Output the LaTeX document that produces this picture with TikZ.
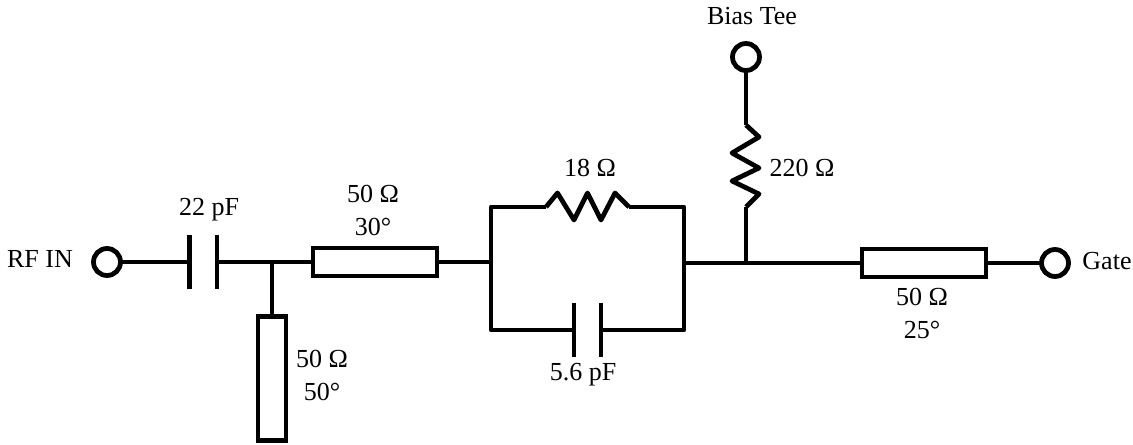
\documentclass[tikz,border=0pt]{standalone}
\usepackage{fontspec}
\setmainfont{Liberation Serif}
\usepackage{tikz}

\tikzset{
  wire/.style={line width=.095cm, line join=round},
  port/.style={circle, draw, line width=.095cm, minimum size=.54cm, inner sep=0, outer sep=0},
  tline/.style={rectangle, draw, line width=.095cm, inner sep=0, outer sep=0},
  plate/.style={rectangle, fill=black, minimum width=.095cm, minimum height=1.08cm, inner sep=0, outer sep=0},
  lbl/.style={inner sep=0, text height=.34cm, text depth=0cm, font=\fontsize{14.8}{17}\selectfont}
}

\begin{document}
\begin{tikzpicture}
 \useasboundingbox (0,0) rectangle (22.66,8.88);

% Ports
 \node[port] (RFIN) at (2.14,3.64) {};
 \node[port] (Bias) at (14.92,7.74) {};
 \node[port] (Gate) at (21.10,3.62) {};
 \node[lbl] (RFINtxt) at (.80,3.70) {RF IN};
 \node[lbl] (Biastxt) at (15.04,8.56) {Bias Tee};
 \node[lbl] (Gatetxt) at (22.14,3.66) {Gate};

% Input capacitor
 \node[plate] (CinA) at (3.79,3.64) {};
 \node[plate] (CinB) at (4.34,3.64) {};
 \node[lbl] (Cintxt) at (4.18,4.74) {22 pF};

% Lines
 \node[tline, minimum width=2.48cm, minimum height=.56cm] (TLa) at (7.5,3.64) {};
 \node[lbl] (TLaZ) at (7.46,5) {50 Ω};
 \node[lbl] (TLaP) at (7.46,4.34) {30°};

 \node[tline, minimum width=.56cm, minimum height=2.48cm] (TLs) at (5.44,1.31) {};
 \node[lbl] (TLsZ) at (6.44,1.70) {50 Ω};
 \node[lbl] (TLsP) at (6.44,1.04) {50°};

 \node[tline, minimum width=2.48cm, minimum height=.56cm] (TLb) at (18.48,3.62) {};
 \node[lbl] (TLbZ) at (18.44,2.94) {50 Ω};
 \node[lbl] (TLbP) at (18.44,2.28) {25°};

% Parallel RC
 \coordinate (Stub) at (5.44,3.64);
 \coordinate (LeftIn) at (9.82,3.64);
 \coordinate (RightIn) at (13.68,3.62);
 \coordinate (LeftTop) at (9.82,4.74);
 \coordinate (RightTop) at (13.68,4.74);
 \coordinate (LeftBot) at (9.82,2.28);
 \coordinate (RightBot) at (13.68,2.28);
 \coordinate (RpA) at (10.92,4.74);
 \coordinate (RpB) at (12.58,4.74);
 \node[plate] (CpA) at (11.48,2.28) {};
 \node[plate] (CpB) at (12.02,2.28) {};
 \node[lbl] (Rptxt) at (11.8,5.52) {18 Ω};
 \node[lbl] (Cptxt) at (11.66,1.44) {5.6 pF};

% Bias resistor
 \coordinate (Tee) at (14.92,3.62);
 \coordinate (RbA) at (14.92,6.38);
 \coordinate (RbB) at (14.92,4.74);
 \node[lbl] (Rbtxt) at (16.04,5.52) {220 Ω};

% Wires
 \draw[wire] (RFIN) -- (CinA);
 \draw[wire] (CinB) -- (TLa);
 \draw[wire] (Stub) -- (TLs);
 \draw[wire] (TLa) -- (LeftIn);
 \draw[wire] (RpA) -- (LeftTop) -- (LeftBot) -- (CpA);
 \draw[wire] (RpB) -- (RightTop) -- (RightBot) -- (CpB);
 \draw[wire] (RightIn) -- (TLb);
 \draw[wire] (TLb) -- (Gate);
 \draw[wire] (Bias) -- (RbA);
 \draw[wire] (RbB) -- (Tee);

% Zigzags
 \draw[wire] (RpA) -- ++(.23,.28) -- ++(.33,-.54) -- ++(.27,.54) -- ++(.27,-.54) -- ++(.28,.54) -- (RpB);
 \draw[wire] (RbA) -- ++(.26,-.24) -- ++(-.54,-.32) -- ++(.54,-.30) -- ++(-.54,-.26) -- ++(.54,-.26) -- (RbB);

\end{tikzpicture}
\end{document}
